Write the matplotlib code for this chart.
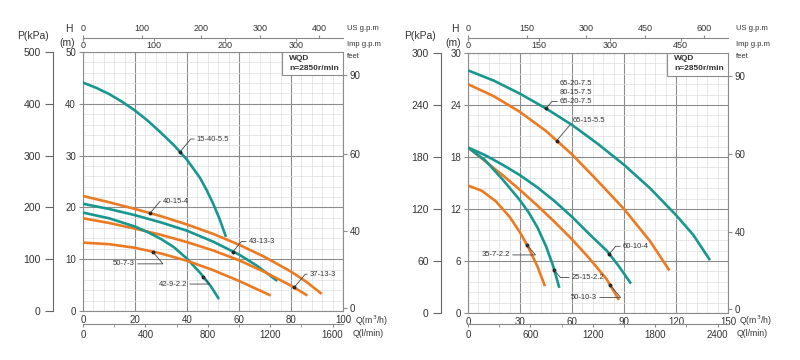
import numpy as np
import matplotlib.pyplot as plt
from matplotlib.ticker import MultipleLocator, FixedLocator
from matplotlib.patches import Rectangle

plt.rcParams['font.family'] = ['Liberation Sans', 'DejaVu Sans']

TEAL = '#17978f'
ORANGE = '#eb7a22'
TXT = '#333333'

# ---- left chart (Q m3/h, H m) ----
q_15_40 = [0, 5, 10, 15, 20, 25, 30, 35, 40, 45, 47.5, 50, 52.5, 55]
h_15_40 = [44.1, 43.1, 41.9, 40.4, 38.7, 36.7, 34.4, 32.0, 29.2, 25.7, 23.4, 20.8, 17.8, 14.3]
q_40_15 = [0, 10, 20, 30, 40, 50, 60, 70, 80, 86, 91.8]
h_40_15 = [22.2, 21.0, 19.7, 18.3, 16.7, 14.9, 12.8, 10.4, 7.6, 5.6, 3.3]
q_43_13 = [0, 10, 20, 30, 40, 50, 60, 67, 74.7]
h_43_13 = [20.7, 19.7, 18.5, 17.1, 15.5, 13.4, 10.9, 8.7, 5.8]
q_37_13 = [0, 10, 20, 30, 40, 50, 60, 70, 80, 86.3]
h_37_13 = [17.9, 17.0, 15.9, 14.7, 13.3, 11.7, 9.8, 7.5, 4.9, 3.0]
q_42_9 = [0, 10, 20, 25, 30, 35, 40, 45, 49, 52.3]
h_42_9 = [19.0, 17.9, 16.3, 15.2, 13.9, 12.3, 10.1, 7.4, 4.9, 2.3]
q_50_7 = [0, 10, 20, 30, 40, 50, 60, 72.2]
h_50_7 = [13.2, 12.9, 12.2, 11.1, 9.7, 7.9, 5.8, 3.0]

left_curves = [
    ('15-40-5.5', q_15_40, h_15_40, TEAL),
    ('40-15-4', q_40_15, h_40_15, ORANGE),
    ('43-13-3', q_43_13, h_43_13, TEAL),
    ('37-13-3', q_37_13, h_37_13, ORANGE),
    ('42-9-2.2', q_42_9, h_42_9, TEAL),
    ('50-7-3', q_50_7, h_50_7, ORANGE),
]
# label: (curve, anchor Q, text Q, text H, ha, angleB)
left_labels = [
    ('15-40-5.5', 37.3, 43.8, 33.2, 'left', 50),
    ('40-15-4', 25.8, 30.8, 21.2, 'left', 50),
    ('43-13-3', 57.7, 63.8, 13.4, 'left', 50),
    ('37-13-3', 81.2, 87.3, 7.1, 'left', 50),
    ('50-7-3', 26.8, 20.0, 9.1, 'right', 130),
    ('42-9-2.2', 46.3, 40.0, 5.2, 'right', 130),
]

# ---- right chart ----
q_65_20 = [0, 15, 30, 45, 60, 75, 90, 105, 120, 130, 139.6]
h_65_20 = [28.0, 26.8, 25.3, 23.6, 21.7, 19.5, 17.1, 14.4, 11.3, 9.0, 6.1]
q_65_15 = [0, 15, 30, 45, 60, 75, 90, 105, 116.2]
h_65_15 = [26.4, 25.0, 23.2, 21.0, 18.3, 15.2, 12.0, 8.3, 4.9]
q_60_10 = [0, 10, 20, 30, 40, 50, 60, 70, 80, 87, 94]
h_60_10 = [19.1, 18.2, 17.1, 15.9, 14.5, 12.9, 11.1, 9.1, 7.2, 5.4, 3.4]
q_50_10 = [0, 10, 20, 30, 40, 50, 60, 70, 80, 87.1]
h_50_10 = [19.1, 17.5, 15.9, 14.2, 12.4, 10.5, 8.5, 6.3, 3.9, 1.5]
q_25_15 = [0, 10, 20, 30, 35, 40, 45, 49, 52.7]
h_25_15 = [19.1, 17.6, 15.4, 13.0, 11.6, 9.9, 7.7, 5.5, 2.9]
q_35_7 = [0, 8, 16, 24, 30, 35, 40, 44.4]
h_35_7 = [14.7, 14.1, 12.9, 11.1, 9.3, 7.5, 5.4, 3.1]

right_curves = [
    ('65-20-7.5', q_65_20, h_65_20, TEAL),
    ('65-15-5.5', q_65_15, h_65_15, ORANGE),
    ('60-10-4', q_60_10, h_60_10, TEAL),
    ('50-10-3', q_50_10, h_50_10, ORANGE),
    ('25-15-2.2', q_25_15, h_25_15, TEAL),
    ('35-7-2.2', q_35_7, h_35_7, ORANGE),
]
right_labels = [
    ('65-20-7.5', 45.0, 53.1, 24.4, 'left', 50),
    ('65-15-5.5', 51.2, 60.6, 22.2, 'left', 50),
    ('35-7-2.2', 33.9, 24.2, 6.7, 'right', 130),
    ('25-15-2.2', 49.8, 60.0, 4.1, 'left', 130),
    ('50-10-3', 81.9, 74.4, 1.8, 'right', 130),
    ('60-10-4', 81.5, 89.4, 7.7, 'left', 50),
]
group_text = ['65-20-7.5', '80-15-7.5', '100-10-7.5']

left_cfg = dict(
    px=(83, 311, 343, 52), qmax=100, hmax=50, qmaj=20, qmin=4, hmaj=10, hmin=2,
    p_x=53, pmax=500, pstep=100,
    us_ticks=[0, 100, 200, 300, 400], imp_ticks=[0, 100, 200, 300],
    lmin_ticks=[0, 400, 800, 1200, 1600], lmin_minor=200,
    feet_pos=[0.6, 15.4, 30.3, 45.5], feet_lab=['0', '40', '60', '90'],
    curves=left_curves, labels=left_labels,
    title_x=(33, 69, 347, 355),
)
right_cfg = dict(
    px=(468, 313, 728, 53), qmax=150, hmax=30, qmaj=30, qmin=6, hmaj=6, hmin=1.2,
    p_x=441, pmax=300, pstep=60,
    us_ticks=[0, 150, 300, 450, 600], imp_ticks=[0, 150, 300, 450],
    lmin_ticks=[0, 600, 1200, 1800, 2400], lmin_minor=300,
    feet_pos=[0.5, 9.3, 18.3, 27.4], feet_lab=['0', '40', '60', '90'],
    curves=right_curves, labels=right_labels,
    title_x=(420, 455, 736, 739),
)

W, H = 800, 360
fig = plt.figure(figsize=(8, 3.6), dpi=100)


def fx(x):
    return x / W


def fy(y):
    return 1 - y / H


def panel(cfg):
    x0, yb, x1, yt = cfg['px']
    rect = [fx(x0), fy(yb), fx(x1) - fx(x0), fy(yt) - fy(yb)]
    ax = fig.add_axes(rect)
    ax.set_xlim(0, cfg['qmax'])
    ax.set_ylim(0, cfg['hmax'])
    ax.xaxis.set_major_locator(MultipleLocator(cfg['qmaj']))
    ax.xaxis.set_minor_locator(MultipleLocator(cfg['qmin']))
    ax.yaxis.set_major_locator(MultipleLocator(cfg['hmaj']))
    ax.yaxis.set_minor_locator(MultipleLocator(cfg['hmin']))
    ax.grid(which='minor', color='#dedede', lw=0.5)
    ax.grid(which='major', color='#8c8c8c', lw=0.8)
    for s in ax.spines.values():
        s.set_color('#8c8c8c')
        s.set_linewidth(0.8)
    ax.tick_params(which='minor', length=0)
    ax.tick_params(axis='x', which='major', length=0, pad=3, labelsize=7, labelcolor=TXT)
    ax.tick_params(axis='y', which='major', length=3, pad=2, labelsize=7, labelcolor=TXT,
                   color='#8c8c8c')
    ax.set_axisbelow(True)

    data = {}
    for name, q, h, c in cfg['curves']:
        ax.plot(q, h, color=c, lw=1.9, solid_capstyle='butt', solid_joinstyle='round',
                zorder=3)
        data[name] = (q, h)

    for name, qa, qt, ht, ha, angb in cfg['labels']:
        q, h = data[name]
        ha_val = np.interp(qa, q, h)
        ax.plot([qa], [ha_val], 'o', ms=1.8, color='#222222', zorder=4)
        ax.annotate(name, xy=(qa, ha_val), xytext=(qt, ht), ha=ha, va='center',
                    fontsize=5.5, color=TXT, zorder=5,
                    arrowprops=dict(arrowstyle='-', lw=0.6, color='#444444',
                                    shrinkA=0, shrinkB=0,
                                    connectionstyle=f'angle,angleA=0,angleB={angb},rad=0'))

    # model box
    bx = 0.765
    by = 1 - 23 / (yb - yt)
    ax.add_patch(Rectangle((bx, by), 1 - bx, 1 - by, transform=ax.transAxes,
                           facecolor='white', edgecolor='#8c8c8c', lw=0.8, zorder=6))
    ax.text(bx + 0.028, 1 - 6 / (yb - yt), 'WQD', transform=ax.transAxes, fontsize=6,
            fontweight='bold', color=TXT, va='center', zorder=7)
    ax.text(bx + 0.028, 1 - 16 / (yb - yt), 'n=2850r/min', transform=ax.transAxes,
            fontsize=6, fontweight='bold', color=TXT, va='center', zorder=7)

    # feet axis on the right
    axr = ax.twinx()
    axr.set_ylim(0, cfg['hmax'])
    axr.yaxis.set_major_locator(FixedLocator(cfg['feet_pos']))
    axr.set_yticklabels(cfg['feet_lab'])
    axr.tick_params(axis='y', length=3, pad=2, labelsize=7, labelcolor=TXT, color='#8c8c8c')
    for s in axr.spines.values():
        s.set_visible(False)

    # pressure axis
    axp = fig.add_axes([fx(cfg['p_x']), rect[1], 0.0001, rect[3]])
    axp.set_ylim(0, cfg['pmax'])
    axp.yaxis.set_major_locator(MultipleLocator(cfg['pstep']))
    axp.set_xticks([])
    for k in ('top', 'right', 'bottom'):
        axp.spines[k].set_visible(False)
    axp.spines['left'].set_color('#666666')
    axp.spines['left'].set_linewidth(0.8)
    axp.tick_params(axis='y', length=6, pad=3, labelsize=7.5, labelcolor=TXT, color='#666666')
    axp.patch.set_visible(False)

    # flow units on top
    qmax = cfg['qmax']
    axu = fig.add_axes([rect[0], fy(38), rect[2], 0.0001])
    axu.set_xlim(0, qmax / 0.22712)
    axu.set_xticks(cfg['us_ticks'])
    axu.set_yticks([])
    for k in ('top', 'right', 'left'):
        axu.spines[k].set_visible(False)
    axu.spines['bottom'].set_color('#888888')
    axu.spines['bottom'].set_linewidth(0.8)
    axu.tick_params(axis='x', top=True, bottom=False, labeltop=True, labelbottom=False,
                    length=2, pad=1.5, labelsize=6.5, labelcolor=TXT, color='#888888')
    axu.patch.set_visible(False)

    axi = fig.add_axes([rect[0], fy(38), rect[2], 0.0001])
    axi.set_xlim(0, qmax / 0.27277)
    axi.set_xticks(cfg['imp_ticks'])
    axi.set_yticks([])
    for s in axi.spines.values():
        s.set_visible(False)
    axi.tick_params(axis='x', length=2, pad=0.5, labelsize=6.5, labelcolor=TXT, color='#888888')
    axi.patch.set_visible(False)

    # l/min at the bottom
    axl = fig.add_axes([rect[0], fy(324), rect[2], 0.0001])
    axl.set_xlim(0, qmax * 1000 / 60)
    axl.set_xticks(cfg['lmin_ticks'])
    axl.xaxis.set_minor_locator(MultipleLocator(cfg['lmin_minor']))
    axl.set_yticks([])
    for k in ('top', 'right', 'left'):
        axl.spines[k].set_visible(False)
    axl.spines['bottom'].set_color('#888888')
    axl.spines['bottom'].set_linewidth(0.8)
    axl.tick_params(axis='x', which='both', length=2, pad=2, labelsize=7, labelcolor=TXT,
                    color='#888888')
    axl.patch.set_visible(False)

    px_, hx, ux, qx = cfg['title_x']
    fig.text(fx(px_), fy(36), 'P(kPa)', ha='center', va='center', fontsize=7.5, color=TXT)
    fig.text(fx(hx), fy(29), 'H', ha='center', va='center', fontsize=7.5, color=TXT)
    fig.text(fx(hx - 2), fy(43), '(m)', ha='center', va='center', fontsize=7.5, color=TXT)
    fig.text(fx(ux), fy(29), 'US g.p.m', ha='left', va='center', fontsize=5.5, color=TXT)
    fig.text(fx(ux), fy(44), 'Imp g.p.m', ha='left', va='center', fontsize=5.5, color=TXT)
    fig.text(fx(ux), fy(57), 'feet', ha='left', va='center', fontsize=5.5, color=TXT)
    fig.text(fx(qx), fy(321), 'Q(m$^3$/h)', ha='left', va='center', fontsize=6.3, color=TXT)
    fig.text(fx(qx - 2), fy(334), 'Q(l/min)', ha='left', va='center', fontsize=6.3, color=TXT)
    return ax


panel(left_cfg)
axR = panel(right_cfg)
# extra lines of the grouped label
for i, t in enumerate(group_text[:2]):
    axR.text(53.1, 24.4 + (2 - i) * 1.05, t, fontsize=5.5, color=TXT, va='center', zorder=5)

fig.savefig('out.png', dpi=100, facecolor='white')
